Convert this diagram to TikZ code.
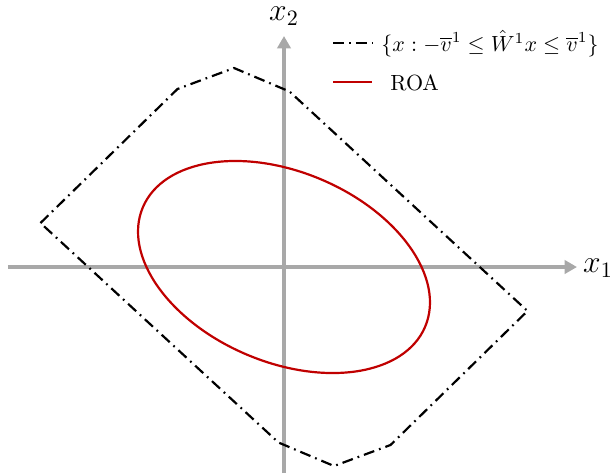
\documentclass[tikz,border=0pt]{standalone}
\usepackage{amsmath,amssymb}
\usepackage{xcolor}
\usepackage{tikz}
\usetikzlibrary{arrows.meta}
\definecolor{axisgray}{HTML}{A8A8A8}
\definecolor{roared}{HTML}{C00000}

\begin{document}
\begin{tikzpicture}[x=0.016cm,y=0.016cm,
  axisline/.style={axisgray,line width=1.4pt,-{Triangle[length=5.6pt,width=6pt]}},
  setline/.style={black,line width=1pt,dash pattern=on 5pt off 2.3pt on 0.8pt off 2.3pt},
  roaline/.style={roared,line width=1pt}]

\useasboundingbox (-284,-206) rectangle (331,267);

% axes
\coordinate (xstart) at (-276,0);
\coordinate (xend) at (293,0);
\coordinate (ystart) at (0,-206);
\coordinate (yend) at (0,231);
\draw[axisline] (xstart) -- (xend);
\draw[axisline] (ystart) -- (yend);
\node[font=\Large] (xonelab) at (314,-1) {$x_1$};
\node[font=\Large] (xtwolab) at (0,251) {$x_2$};

% constraint set
\draw[setline] (-243.5,44) -- (-106.5,178) -- (-50,199) -- (5.5,175.5)
  -- (243.5,-44) -- (106.5,-178) -- (50,-199) -- (-5.5,-175.5) -- cycle;

% region of attraction
\draw[roaline,rotate=-22.9] (0,0) ellipse (2.453cm and 1.523cm);

% legend
\coordinate (legaa) at (49,224);
\coordinate (legab) at (88,224);
\coordinate (legba) at (49,185);
\coordinate (legbb) at (88,185);
\draw[setline] (legaa) -- (legab);
\draw[roaline] (legba) -- (legbb);
\node[anchor=west,inner sep=0pt] (legset) at (97,223.5)
  {$\{x : -\overline{v}^1 \leq \hat{W}^1 x \leq \overline{v}^1\}$};
\node[anchor=base west,inner sep=0pt] (legroa) at (106,177) {ROA};

\end{tikzpicture}
\end{document}
